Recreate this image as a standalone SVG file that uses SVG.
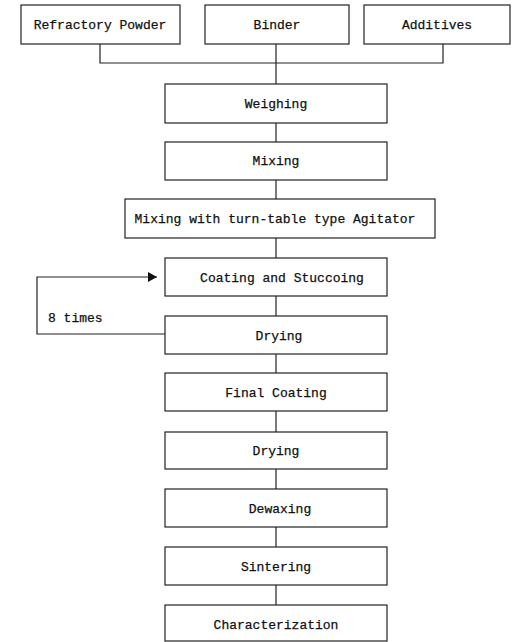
<svg xmlns="http://www.w3.org/2000/svg" width="516" height="642" viewBox="0 0 516 642">
<defs>
<style>
.box{fill:#fff;stroke:#222;stroke-width:1.2}
.t{font-family:"Liberation Mono","DejaVu Sans Mono",monospace;font-size:13px;fill:#111;stroke:#111;stroke-width:0.25;text-anchor:middle}
.c{fill:none;stroke:#222;stroke-width:1.2}
</style>
<marker id="ah" markerWidth="10" markerHeight="10" refX="9" refY="5" orient="auto" markerUnits="userSpaceOnUse">
<path d="M0,0 L9,5 L0,10 Z" fill="#111"/>
</marker>
</defs>
<rect width="516" height="642" fill="#fff"/>
<g id="connectors">
<path class="c" d="M100,44 V63 H443 V44"/>
<path class="c" d="M276,44 V84"/>
<path class="c" d="M276,123 V142"/>
<path class="c" d="M276,180 V199"/>
<path class="c" d="M276,238 V258"/>
<path class="c" d="M276,296 V316"/>
<path class="c" d="M276,354 V373"/>
<path class="c" d="M276,411 V432"/>
<path class="c" d="M276,469 V489"/>
<path class="c" d="M276,527 V547"/>
<path class="c" d="M276,585 V605"/>
<path class="c" d="M165,334 H37 V277 H157" marker-end="url(#ah)"/>
<text x="48" y="322" class="t" style="text-anchor:start">8 times</text>
</g>
<g id="refractory"><rect class="box" x="21" y="5" width="159" height="39"/><text class="t" x="100" y="29">Refractory Powder</text></g>
<g id="binder"><rect class="box" x="205" y="5" width="144" height="39"/><text class="t" x="277" y="29">Binder</text></g>
<g id="additives"><rect class="box" x="364" y="5" width="146" height="39"/><text class="t" x="437" y="29">Additives</text></g>
<g id="weighing"><rect class="box" x="165" y="84" width="222" height="39"/><text class="t" x="276" y="108">Weighing</text></g>
<g id="mixing"><rect class="box" x="165" y="142" width="222" height="38"/><text class="t" x="276" y="165">Mixing</text></g>
<g id="mixing-agitator"><rect class="box" x="125" y="199" width="310" height="39"/><text class="t" x="275" y="223">Mixing with turn-table type Agitator</text></g>
<g id="coating"><rect class="box" x="165" y="258" width="222" height="38"/><text class="t" x="282" y="282">Coating and Stuccoing</text></g>
<g id="drying1"><rect class="box" x="165" y="316" width="222" height="38"/><text class="t" x="279" y="340">Drying</text></g>
<g id="final-coating"><rect class="box" x="165" y="373" width="222" height="38"/><text class="t" x="276" y="397">Final Coating</text></g>
<g id="drying2"><rect class="box" x="165" y="432" width="222" height="37"/><text class="t" x="276" y="455">Drying</text></g>
<g id="dewaxing"><rect class="box" x="165" y="489" width="222" height="38"/><text class="t" x="280" y="513">Dewaxing</text></g>
<g id="sintering"><rect class="box" x="165" y="547" width="222" height="38"/><text class="t" x="276" y="571">Sintering</text></g>
<g id="characterization"><rect class="box" x="165" y="605" width="222" height="36"/><text class="t" x="276" y="629">Characterization</text></g>
</svg>
